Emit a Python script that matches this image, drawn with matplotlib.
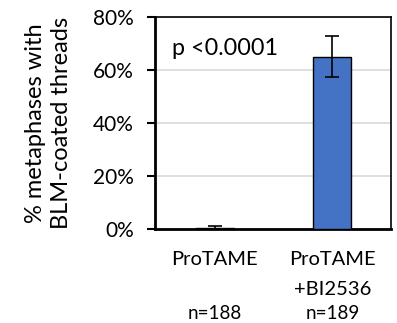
import matplotlib.pyplot as plt
from matplotlib.ticker import PercentFormatter

plt.rcParams['font.family'] = ['Lato', 'DejaVu Sans']

categories = ['ProTAME', 'ProTAME\n+BI2536']
values = [0.5, 65.0]
errors = [0.5, 7.7]
counts = ['n=188', 'n=189']
colors = ['#4472C4', '#4472C4']

fig = plt.figure(figsize=(3.97, 3.23), dpi=100)
ax = fig.add_axes([0.390, 0.291, 0.595, 0.656])

x = list(range(len(categories)))
ax.bar(x, values, width=0.32, color=colors, edgecolor='black', linewidth=1.0,
       yerr=errors, capsize=5, error_kw={'elinewidth': 1.2, 'capthick': 1.2}, zorder=3)

ax.set_xlim(-0.51, 1.5)
ax.set_ylim(0, 80)
ax.set_yticks([0, 20, 40, 60, 80])
ax.yaxis.set_major_formatter(PercentFormatter(decimals=0))
ax.grid(axis='y', color='#d9d9d9', linewidth=1.2, zorder=0)
ax.set_axisbelow(True)

ax.set_xticks(x)
ax.set_xticklabels(categories, fontsize=14.5, linespacing=1.9, va='top')
ax.tick_params(axis='x', length=0, pad=16)
ax.tick_params(axis='y', length=6, width=1.5, labelsize=15, pad=9)

for s in ['left', 'bottom']:
    ax.spines[s].set_linewidth(2)
for s in ['top', 'right']:
    ax.spines[s].set_linewidth(1.2)

for xi, n in zip(x, counts):
    ax.text(xi, -31.8, n, ha='center', va='center', fontsize=13.5)

ax.text(-0.36, 68.3, 'p <0.0001', ha='left', va='center', fontsize=16.8)

ax.set_ylabel('% metaphases with\nBLM-coated threads', fontsize=17, linespacing=1.3)
ax.yaxis.set_label_coords(-0.352, 0.5)

fig.savefig('out.png', dpi=100)
